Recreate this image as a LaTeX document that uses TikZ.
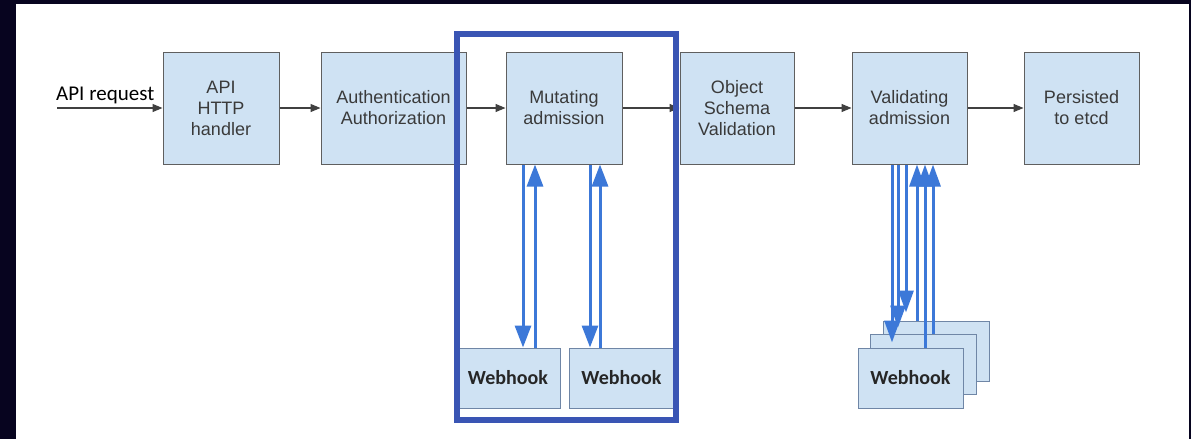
\documentclass[tikz,border=0pt]{standalone}
\usepackage{fontspec}
\setmainfont{Liberation Sans}
\newfontfamily\calibri{Carlito}
\usetikzlibrary{arrows.meta}

\definecolor{bgdark}{HTML}{07041F}
\definecolor{boxblue}{HTML}{CFE2F3}
\definecolor{boxedge}{HTML}{5F5F5F}
\definecolor{hookedge}{HTML}{6F86A6}
\definecolor{textgray}{HTML}{3A3A3A}
\definecolor{flowgray}{HTML}{404040}
\definecolor{hookblue}{HTML}{3C78D8}
\definecolor{framblue}{HTML}{3A55B4}

\begin{document}
\begin{tikzpicture}[x=1pt,y=-1pt,
  stage/.style={draw=boxedge, line width=1pt, fill=boxblue, inner sep=0pt,
    minimum height=112pt, align=center, text=textgray,
    font=\fontsize{18}{21}\selectfont},
  hook/.style={draw=hookedge, line width=1pt, fill=boxblue, inner sep=0pt,
    minimum width=105pt, minimum height=60pt, text=black!85,
    font=\calibri\bfseries\fontsize{20}{24}\selectfont},
  flow/.style={draw=flowgray, line width=1.2pt,
    -{Triangle[length=10pt,width=8pt]}},
  hookflow/.style={draw=hookblue, line width=3pt,
    -{Triangle[length=22pt,width=16pt]}},
  groupframe/.style={draw=framblue, line width=6pt, inner sep=0pt}]

\useasboundingbox (0,0) rectangle (1191,439);
\fill[bgdark] (0,0) rectangle (1191,439);
\fill[white] (16,4) rectangle (1189,439);

% pipeline stages
\node[stage, minimum width=116pt] (api)  at (221,108)   {API\\HTTP\\handler};
\node[stage, minimum width=145pt] (auth) at (393.5,108) {Authentication\\Authorization};
\node[stage, minimum width=116pt] (mut)  at (564,108)   {Mutating\\admission};
\node[stage, minimum width=114pt] (obj)  at (737,108)   {Object\\Schema\\Validation};
\node[stage, minimum width=115pt] (val)  at (909.5,108) {Validating\\admission};
\node[stage, minimum width=115pt] (pers) at (1081.5,108) {Persisted\\to etcd};

% incoming request
\coordinate (req) at (57,108);
\node[anchor=south west, inner sep=0pt, text=black,
  font=\calibri\fontsize{21}{24}\selectfont] (reqlabel) at (56,104) {API request};
\draw[flow] (req) -- (api);

\draw[flow] (api) -- (auth);
\draw[flow] (auth) -- (mut);
\draw[flow] (mut) -- (obj);
\draw[flow] (obj) -- (val);
\draw[flow] (val) -- (pers);

% mutating webhooks
\node[hook, minimum width=104pt] (wh1) at (508,378)   {Webhook};
\node[hook]                      (wh2) at (621.5,378) {Webhook};

\coordinate (md1) at ([xshift=-41pt]mut.south);
\coordinate (mu1) at ([xshift=-29pt]mut.south);
\coordinate (md2) at ([xshift=26pt]mut.south);
\coordinate (mu2) at ([xshift=36pt]mut.south);
\draw[hookflow] (md1) -- (md1 |- wh1.north);
\draw[hookflow] (mu1 |- wh1.north) -- (mu1);
\draw[hookflow] (md2) -- (md2 |- wh2.north);
\draw[hookflow] (mu2 |- wh2.north) -- (mu2);

% validating webhooks, stacked
\node[hook, minimum width=106pt] (vh3) at (936,351)   {Webhook};
\node[hook, minimum width=106pt] (vh2) at (923,364)   {Webhook};
\node[hook]                      (vh1) at (910.5,378) {Webhook};

\coordinate (vd1) at ([xshift=-17.5pt]val.south);
\coordinate (vd2) at ([xshift=-11.5pt]val.south);
\coordinate (vd3) at ([xshift=-3.5pt]val.south);
\coordinate (vu1) at ([xshift=7.5pt]val.south);
\coordinate (vu2) at ([xshift=15.5pt]val.south);
\coordinate (vu3) at ([xshift=23.5pt]val.south);
\begin{scope}[hookflow/.append style={-{Triangle[length=22pt,width=15pt]}}]
\draw[hookflow, shorten >=5pt] (vd1) -- (vd1 |- vh1.north);
\draw[hookflow, shorten >=6pt] (vd2) -- (vd2 |- vh2.north);
\draw[hookflow, shorten >=8pt] (vd3) -- (vd3 |- vh3.north);
\draw[hookflow] (vu1 |- vh3.north) -- (vu1);
\draw[hookflow] (vu2 |- vh1.north) -- (vu2);
\draw[hookflow] (vu3 |- vh2.north) -- (vu3);
\end{scope}

% frame around the mutating stage
\node[groupframe, minimum width=219pt, minimum height=386pt] (mgroup) at (566.5,227) {};

\end{tikzpicture}
\end{document}
